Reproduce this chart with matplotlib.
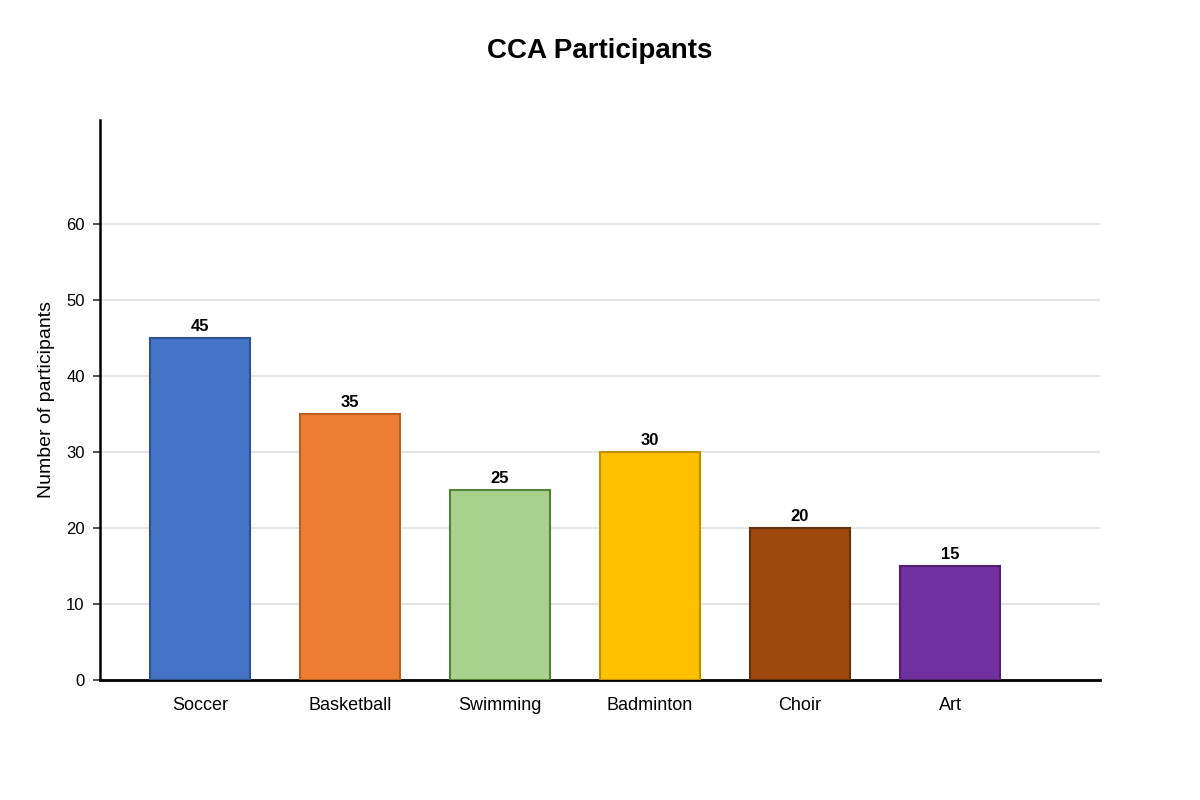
import matplotlib
matplotlib.use('Agg')
import matplotlib.pyplot as plt

plt.rcParams['font.family'] = ['Liberation Sans', 'DejaVu Sans']

# Data
activities = ['Soccer', 'Basketball', 'Swimming', 'Badminton', 'Choir', 'Art']
participants = [45, 35, 25, 30, 20, 15]
fill_colors = ['#4472C4', '#ED7D31', '#A9D18E', '#FFC000', '#9E480E', '#7030A0']
edge_colors = ['#2F528F', '#B85E1F', '#548235', '#BF9000', '#63300A', '#4F2170']
y_ticks = [0, 10, 20, 30, 40, 50, 60]

fig = plt.figure(figsize=(12, 8), dpi=100)
ax = fig.add_axes([100 / 1200, 120 / 800, 1000 / 1200, 560 / 800])

x = range(len(activities))
ax.bar(x, participants, width=0.667, color=fill_colors,
       edgecolor=edge_colors, linewidth=1.5, zorder=3)

for xi, val in zip(x, participants):
    ax.annotate(str(val), xy=(xi, val), xytext=(0, 3), textcoords='offset points',
                ha='center', va='bottom', fontsize=12, fontweight='bold', zorder=4)

ax.set_xlim(-0.667, 6.0)
ax.set_ylim(0, 73.7)
ax.set_yticks(y_ticks)
ax.set_xticks(list(x))
ax.set_xticklabels(activities, fontsize=13)
ax.tick_params(axis='x', length=0, pad=12)
ax.tick_params(axis='y', labelsize=12, length=5, width=1.2, color='#333333', pad=6)

ax.grid(axis='y', color='#e0e0e0', linewidth=1.2, zorder=0)
ax.set_axisbelow(True)

for side in ['top', 'right']:
    ax.spines[side].set_visible(False)
ax.spines['left'].set_linewidth(1.8)
ax.spines['bottom'].set_linewidth(2)

ax.set_ylabel('Number of participants', fontsize=14, labelpad=8)
fig.text(0.5, 1 - 51 / 800, 'CCA Participants', ha='center', va='center',
         fontsize=20, fontweight='bold')

fig.savefig('out.png', dpi=100, facecolor='white')
